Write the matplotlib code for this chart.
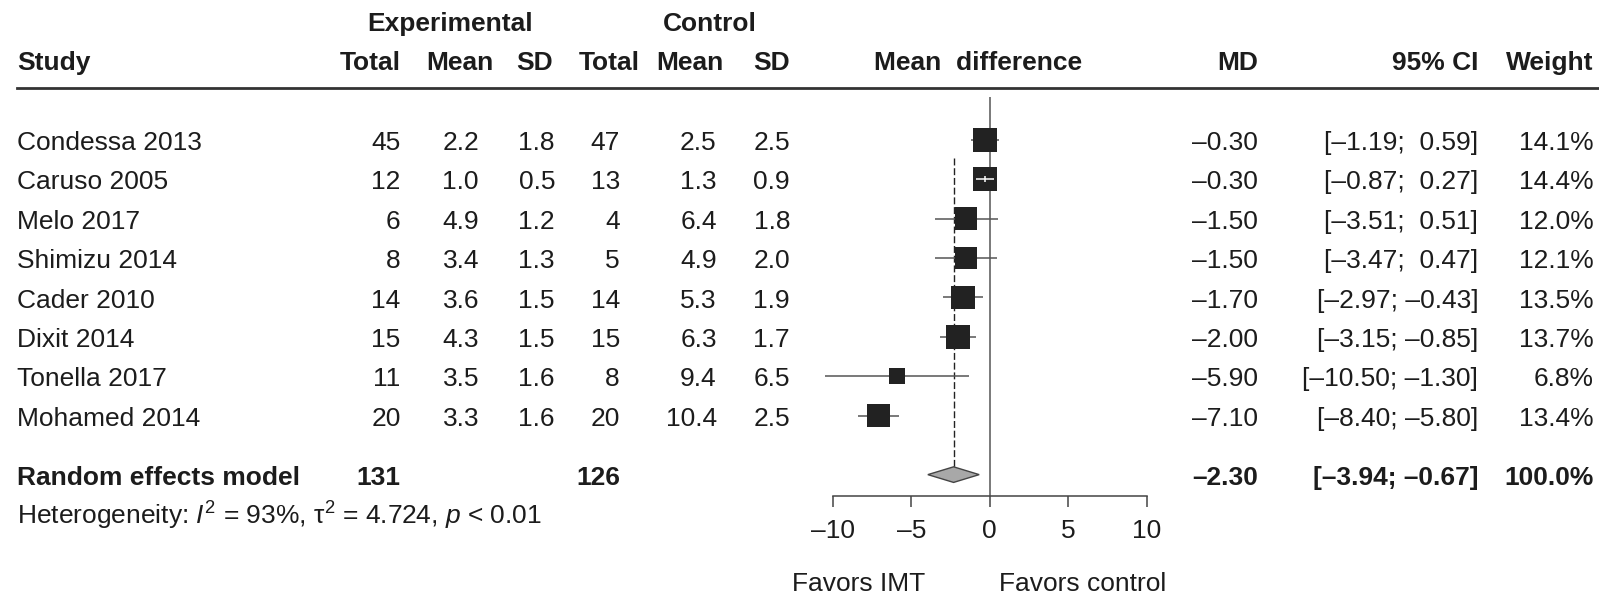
import matplotlib
matplotlib.use('Agg')
import matplotlib.pyplot as plt
from matplotlib import transforms
import numpy as np

plt.rcParams['font.family'] = ['Liberation Sans', 'DejaVu Sans']
plt.rcParams['mathtext.fontset'] = 'custom'
plt.rcParams['mathtext.rm'] = 'Liberation Sans'
plt.rcParams['mathtext.it'] = 'Liberation Sans:italic'
plt.rcParams['font.size'] = 19

# data
studies = ['Condessa 2013', 'Caruso 2005', 'Melo 2017', 'Shimizu 2014',
           'Cader 2010', 'Dixit 2014', 'Tonella 2017', 'Mohamed 2014']
exp_n = [45, 12, 6, 8, 14, 15, 11, 20]
exp_mean = [2.2, 1.0, 4.9, 3.4, 3.6, 4.3, 3.5, 3.3]
exp_sd = [1.8, 0.5, 1.2, 1.3, 1.5, 1.5, 1.6, 1.6]
ctl_n = [47, 13, 4, 5, 14, 15, 8, 20]
ctl_mean = [2.5, 1.3, 6.4, 4.9, 5.3, 6.3, 9.4, 10.4]
ctl_sd = [2.5, 0.9, 1.8, 2.0, 1.9, 1.7, 6.5, 2.5]
md = [-0.30, -0.30, -1.50, -1.50, -1.70, -2.00, -5.90, -7.10]
ci_lo = [-1.19, -0.87, -3.51, -3.47, -2.97, -3.15, -10.50, -8.40]
ci_hi = [0.59, 0.27, 0.51, 0.47, -0.43, -0.85, -1.30, -5.80]
weight = [14.1, 14.4, 12.0, 12.1, 13.5, 13.7, 6.8, 13.4]

pooled_label = 'Random effects model'
pooled_n = [131, 126]
pooled_md = -2.30
pooled_lo = -3.94
pooled_hi = -0.67
pooled_weight = 100.0
heterogeneity = 'Heterogeneity: $I^2$ = 93%, τ$^2$ = 4.724, $p$ < 0.01'

xticks = [-10, -5, 0, 5, 10]
xtick_labels = ['–10', '–5', '0', '5', '10']
favors = ['Favors IMT', 'Favors control']

TXT = '#1c1c1c'
W, H = 1599, 595


def fmt(v, nd=2):
    s = f'{abs(v):.{nd}f}'
    return ('–' if v < 0 else '') + s


def fmt_ci(lo, hi):
    hi_s = fmt(hi)
    if hi >= 0:
        hi_s = ' ' + hi_s
    return f'[{fmt(lo)}; {hi_s}]'


fig = plt.figure(figsize=(W / 100, H / 100), dpi=100)
ax = fig.add_axes([832.7 / W, 1 - 495.7 / H, 314 / W, 495.7 / H])
ax.set_xlim(-10, 10)
ax.set_ylim(9.035, -3.546)
for side in ['top', 'left', 'right']:
    ax.spines[side].set_visible(False)
ax.spines['bottom'].set_color('#444444')
ax.spines['bottom'].set_linewidth(1.1)
ax.set_yticks([])
ax.set_xticks(xticks)
ax.set_xticklabels(xtick_labels)
ax.tick_params(axis='x', direction='out', length=8, width=1.1, color='#444444',
               pad=9, labelsize=19, labelcolor=TXT)
ax.patch.set_alpha(0)

rows = np.arange(len(studies))
pooled_row = len(studies) + 0.5

# x in figure fraction, y in rows
tr = transforms.blended_transform_factory(fig.transFigure, ax.transData)


def put(x_px, row, s, ha='right', bold=False):
    ax.text(x_px / W, row + 0.26, s, transform=tr, ha=ha, va='baseline',
            fontweight='bold' if bold else 'normal', color=TXT)


# headers
put(450, -3.03, 'Experimental', ha='center', bold=True)
put(710, -3.03, 'Control', ha='center', bold=True)
hdr = -2.04
put(17.3, hdr, 'Study', ha='left', bold=True)
for x, s in zip([400.7, 493.3, 553, 640, 723.3, 790],
                ['Total', 'Mean', 'SD', 'Total', 'Mean', 'SD']):
    put(x, hdr, s, bold=True)
put(978, hdr, 'Mean  difference', ha='center', bold=True)
put(1258.3, hdr, 'MD', bold=True)
put(1478.3, hdr, '95% CI', bold=True)
put(1593.3, hdr, 'Weight', bold=True)
ax.plot([17.3 / W, 1.0], [-1.31, -1.31], transform=tr, color='#333333',
        lw=2.0, clip_on=False)

# study rows
col_x = [400.7, 479, 555, 620, 716.7, 790]
for i, r in enumerate(rows):
    put(17.3, r, studies[i], ha='left')
    vals = [str(exp_n[i]), f'{exp_mean[i]:.1f}', f'{exp_sd[i]:.1f}',
            str(ctl_n[i]), f'{ctl_mean[i]:.1f}', f'{ctl_sd[i]:.1f}']
    for x, s in zip(col_x, vals):
        put(x, r, s)
    put(1258.3, r, fmt(md[i]))
    put(1478.3, r, fmt_ci(ci_lo[i], ci_hi[i]))
    put(1593.3, r, f'{weight[i]:.1f}%')

# pooled row
put(17.3, pooled_row, pooled_label, ha='left', bold=True)
put(400.7, pooled_row, str(pooled_n[0]), bold=True)
put(620, pooled_row, str(pooled_n[1]), bold=True)
put(1258.3, pooled_row, fmt(pooled_md), bold=True)
put(1478.3, pooled_row, fmt_ci(pooled_lo, pooled_hi), bold=True)
put(1593.3, pooled_row, f'{pooled_weight:.1f}%', bold=True)
put(17.3, pooled_row + 1.0, heterogeneity, ha='left')

# favors labels
ax.text(859 / W, 11.455, favors[0], transform=tr, ha='center', va='baseline', color=TXT)
ax.text(1082.5 / W, 11.455, favors[1], transform=tr, ha='center', va='baseline', color=TXT)

# forest marks
ax.vlines(0, -1.09, 9.035, color='#555555', lw=1.1, zorder=1)
ax.vlines(pooled_md, 0.46, pooled_row - 0.2, color='#222222', lw=1.0,
          linestyles=(0, (5, 2)), zorder=1)
ax.hlines(rows, ci_lo, ci_hi, color='#555555', lw=1.1, zorder=2, clip_on=False)

side_px = 24 * np.sqrt(np.array(weight) / 14.1)
ax.scatter(md, rows, marker='s', s=(side_px * 0.72) ** 2, color='#222222',
           linewidths=0, zorder=3, clip_on=False)

# white CI inside squares that fully contain it
px_per_unit = 314 / 20
for i, r in enumerate(rows):
    half = side_px[i] / 2 / px_per_unit
    if ci_lo[i] > md[i] - half and ci_hi[i] < md[i] + half:
        ax.hlines(r, ci_lo[i], ci_hi[i], color='white', lw=1.1, zorder=4)
        ax.vlines(md[i], r - 0.08, r + 0.08, color='white', lw=1.1, zorder=4)

dh = 0.198
ax.fill([pooled_lo, pooled_md, pooled_hi, pooled_md],
        [pooled_row, pooled_row - dh, pooled_row, pooled_row + dh],
        facecolor='#a8a8a8', edgecolor='#444444', lw=1.0, zorder=3)

fig.savefig('out.png', dpi=100)
